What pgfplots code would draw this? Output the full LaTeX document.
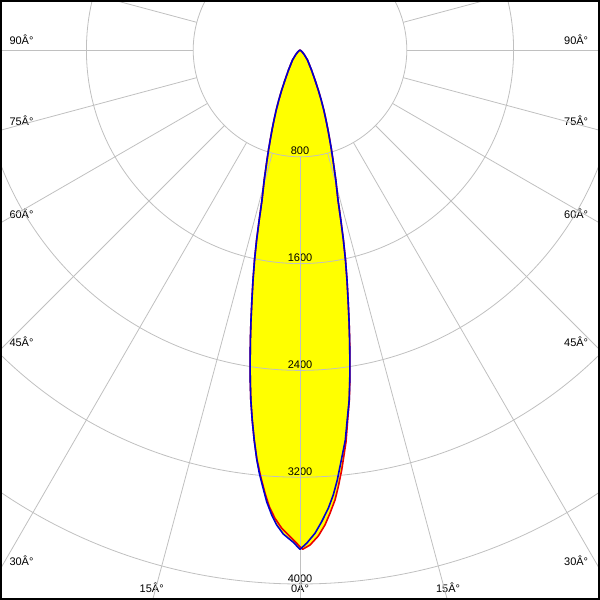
\documentclass[border=0pt]{standalone}
\usepackage{pgfplots}
\pgfplotsset{compat=1.18}
\usepackage{pgfplotstable}
\usepackage{fontspec}
\setmainfont{Liberation Sans}
\definecolor{gridc}{RGB}{192,192,192}
\definecolor{lblue}{RGB}{0,0,210}
\definecolor{lred}{RGB}{235,0,0}
\definecolor{lyel}{RGB}{255,255,0}
\tikzset{lbl/.style={inner sep=0pt,font=\fontsize{11}{13}\selectfont,text=black}}

% angle (deg, 0 = straight down, negative = left), intensity (cd)
\pgfplotstableread{
a I
-90 0
-60 0
-50 20
-42.0 50.4
-36.87 93.6
-29.9 172.8
-26.57 251.2
-24.58 329.5
-22.98 406.8
-21.64 483.5
-20.38 559.3
-19.29 634.9
-18.32 710.2
-17.48 785.3
-16.70 860.2
-15.40 1010.0
-14.22 1159.1
-13.50 1309.6
-12.87 1459.8
-12.22 1609.5
-11.55 1758.4
-10.89 1907.1
-10.29 2055.5
-9.71 2203.8
-9.14 2352.0
-8.58 2499.9
-8.00 2647.5
-7.36 2794.5
-6.70 2941.4
-6.01 3088.2
-5.49 3185
-4.88 3283
-4.22 3393
-3.48 3490
-2.81 3562
-1.98 3628
-0.78 3688
0 3740
0.78 3695
1.78 3622
2.63 3537
3.53 3440
4.28 3342
4.96 3233
5.48 3136
6.63 2941
7.27 2794
8.00 2647.5
8.58 2499.9
9.14 2352.0
9.71 2203.8
10.29 2055.5
10.89 1907.1
11.55 1758.4
12.22 1609.5
12.87 1459.8
13.50 1309.6
14.22 1159.1
15.40 1010.0
16.70 860.2
17.48 785.3
18.32 710.2
19.29 634.9
20.38 559.3
21.64 483.5
22.98 406.8
24.58 329.5
26.57 251.2
29.9 172.8
36.87 93.6
42.0 50.4
50 20
60 0
90 0
}\bluedata

\pgfplotstableread{
a I
-90 0
-60 0
-50 20
-42.0 50.4
-36.87 93.6
-29.9 172.8
-26.57 251.2
-24.58 329.5
-22.98 406.8
-21.64 483.5
-20.38 559.3
-19.29 634.9
-18.32 710.2
-17.48 785.3
-16.70 860.2
-15.40 1010.0
-14.22 1159.1
-13.50 1309.6
-12.87 1459.8
-12.22 1609.5
-11.55 1758.4
-10.89 1907.1
-10.29 2055.5
-9.71 2203.8
-9.14 2352.0
-8.58 2499.9
-8.00 2647.5
-7.36 2794.5
-6.70 2941.4
-6.03 3080
-5.26 3210
-4.51 3331
-3.85 3428
-3.06 3513
-2.19 3585
-1.18 3646
-0.38 3695
0 3722
0.31 3740
1.16 3709
2.16 3643
3.01 3563
3.70 3478
4.45 3381
5.01 3284
5.67 3162
6.70 2955
7.30 2805
8.00 2652
8.58 2503
9.14 2355
9.71 2206
10.29 2057
10.89 1908
11.55 1759
12.22 1610
12.87 1459.8
13.50 1309.6
14.22 1159.1
15.40 1010.0
16.70 860.2
17.48 785.3
18.32 710.2
19.29 634.9
20.38 559.3
21.64 483.5
22.98 406.8
24.58 329.5
26.57 251.2
29.9 172.8
36.87 93.6
42.0 50.4
50 20
60 0
90 0
}\reddata

\begin{document}
\begin{tikzpicture}
\begin{axis}[width=600pt,height=600pt,scale only axis,hide axis,
  xmin=-2247.19,xmax=2247.19,ymin=-4119.85,ymax=374.53]
% yellow fill
\addplot[fill=lyel,draw=none] table[x expr={\thisrow{I}*sin(\thisrow{a})},y expr={-\thisrow{I}*cos(\thisrow{a})}]{\reddata};
\addplot[fill=lyel,draw=none] table[x expr={\thisrow{I}*sin(\thisrow{a})},y expr={-\thisrow{I}*cos(\thisrow{a})}]{\bluedata};
% circle value labels
\node[lbl,anchor=base] at (rel axis cs:0.5,0.742) {800};
\node[lbl,anchor=base] at (rel axis cs:0.5,0.564) {1600};
\node[lbl,anchor=base] at (rel axis cs:0.5,0.386) {2400};
\node[lbl,anchor=base] at (rel axis cs:0.5,0.208) {3200};
\node[lbl,anchor=base] at (rel axis cs:0.5,0.030) {4000};
% angle labels
\node[lbl,anchor=base west] at (rel axis cs:0.0155,0.925) {90Â°};
\node[lbl,anchor=base west] at (rel axis cs:0.0155,0.790) {75Â°};
\node[lbl,anchor=base west] at (rel axis cs:0.0155,0.6362) {60Â°};
\node[lbl,anchor=base west] at (rel axis cs:0.0155,0.4233) {45Â°};
\node[lbl,anchor=base west] at (rel axis cs:0.0155,0.0583) {30Â°};
\node[lbl,anchor=base east] at (rel axis cs:0.9805,0.925) {90Â°};
\node[lbl,anchor=base east] at (rel axis cs:0.9805,0.790) {75Â°};
\node[lbl,anchor=base east] at (rel axis cs:0.9805,0.6362) {60Â°};
\node[lbl,anchor=base east] at (rel axis cs:0.9805,0.4233) {45Â°};
\node[lbl,anchor=base east] at (rel axis cs:0.9805,0.0583) {30Â°};
\node[lbl,anchor=base] at (rel axis cs:0.2528,0.0117) {15Â°};
\node[lbl,anchor=base] at (rel axis cs:0.7467,0.0117) {15Â°};
\node[lbl,anchor=base] at (rel axis cs:0.5,0.0133) {0Â°};
% grid
\draw[gridc,line width=0.8pt] (axis cs:0,0) circle[radius=106.8pt];
\draw[gridc,line width=0.8pt] (axis cs:0,0) circle[radius=213.6pt];
\draw[gridc,line width=0.8pt] (axis cs:0,0) circle[radius=320.4pt];
\draw[gridc,line width=0.8pt] (axis cs:0,0) circle[radius=427.2pt];
\draw[gridc,line width=0.8pt] (axis cs:0,0) circle[radius=534pt];
\pgfplotsinvokeforeach{0,15,...,345}{
  \draw[gridc,line width=0.8pt] (axis cs:{800*sin(#1)},{-800*cos(#1)}) -- (axis cs:{6000*sin(#1)},{-6000*cos(#1)});
}
% curves
\addplot[draw=lred,line width=1.6pt,line join=round] table[x expr={\thisrow{I}*sin(\thisrow{a})},y expr={-\thisrow{I}*cos(\thisrow{a})}]{\reddata};
\addplot[draw=lblue,line width=1.6pt,line join=round] table[x expr={\thisrow{I}*sin(\thisrow{a})},y expr={-\thisrow{I}*cos(\thisrow{a})}]{\bluedata};
\end{axis}
\draw[black,line width=2pt] ([shift={(1pt,1pt)}]current axis.south west) rectangle ([shift={(-1pt,-1pt)}]current axis.north east);
\pgfresetboundingbox
\useasboundingbox (current axis.south west) rectangle (current axis.north east);
\end{tikzpicture}
\end{document}
